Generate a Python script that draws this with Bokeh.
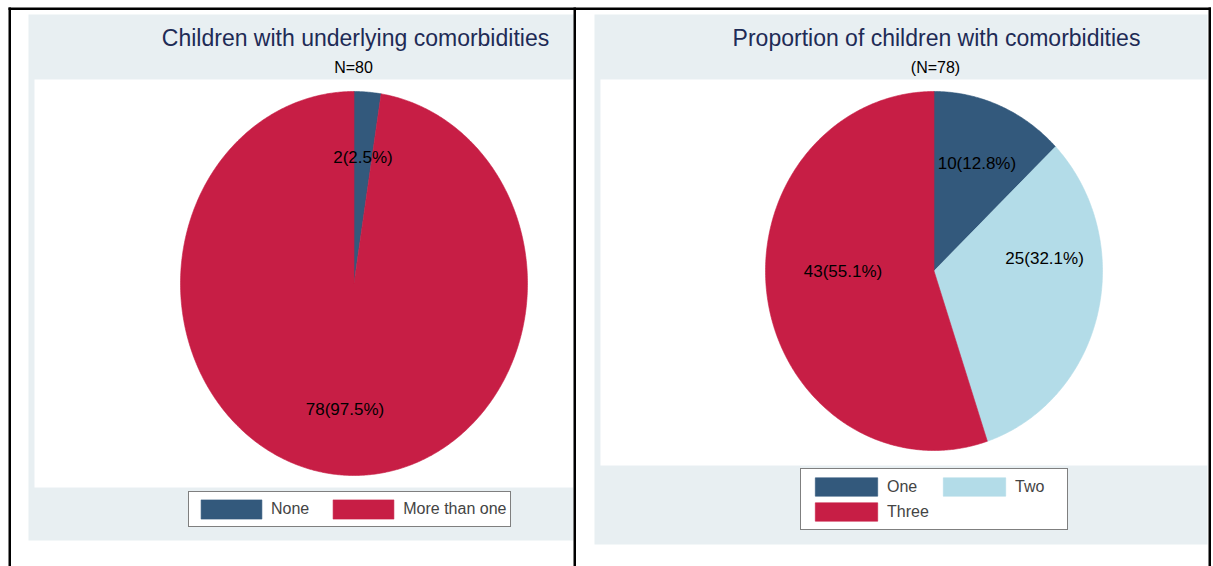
import numpy as np
from bokeh.plotting import figure
from bokeh.models import Range1d, Label, Legend, LegendItem
from bokeh.embed import file_html
from bokeh.resources import INLINE

# ---------------- data ----------------
left_title = "Children with underlying comorbidities"
left_subtitle = "N=80"
left_categories = ["None", "More than one"]
left_counts = [2, 78]

right_title = "Proportion of children with comorbidities"
right_subtitle = "(N=78)"
right_categories = ["One", "Two", "Three"]
right_counts = [10, 25, 43]

# ---------------- styles ----------------
NAVY = "#33597c"
RED = "#c71e45"
LIGHT = "#b3dce8"
BG = "#e8eff2"
TITLE_COLOR = "#1e2b56"
FONT = "Liberation Sans"
left_colors = [NAVY, RED]
right_colors = [NAVY, LIGHT, RED]

W, H = 1211, 566
p = figure(width=W, height=H, output_backend="svg", toolbar_location=None,
           x_range=Range1d(0, W), y_range=Range1d(H, 0),
           min_border=0, outline_line_color=None)
p.axis.visible = False
p.grid.visible = False
p.background_fill_color = "white"
p.border_fill_color = "white"

# panel backgrounds and plot regions
p.quad(left=[28, 594], right=[573, 1207], top=[14, 14], bottom=[540, 544],
       fill_color=BG, line_color=None)
p.quad(left=[34, 600], right=[573, 1207], top=[79, 79], bottom=[487, 465],
       fill_color="white", line_color=None)

# frame lines
p.quad(left=[8, 8, 573, 1208], right=[1210.5, 10.5, 575.5, 1210.5],
       top=[7, 7, 7, 7], bottom=[9.5, 566, 566, 566],
       fill_color="black", line_color=None)


def draw_pie(counts, colors, cx, cy, rx, ry, fracs_r, shifts):
    total = float(sum(counts))
    start = 0.0
    rends = []
    for i, (n, c) in enumerate(zip(counts, colors)):
        span = 360.0 * n / total
        th = np.radians(np.linspace(start, start + span, max(4, int(span * 2))))
        xs = np.concatenate([[cx], cx + rx * np.sin(th)])
        ys = np.concatenate([[cy], cy - ry * np.cos(th)])
        r = p.patch(xs, ys, fill_color=c, line_color=c, line_width=0.6)
        rends.append(r)
        mid = np.radians(start + span / 2 + shifts[i])
        lx = cx + rx * np.sin(mid) * fracs_r[i]
        ly = cy - ry * np.cos(mid) * fracs_r[i]
        pct = 100.0 * n / total
        p.add_layout(Label(x=lx, y=ly, text=f"{n}({pct:.1f}%)",
                           text_align="center", text_baseline="middle",
                           text_font=FONT, text_font_size="17px",
                           text_color="black"))
        start += span
    return rends


left_r = draw_pie(left_counts, left_colors, 353.5, 283, 173.5, 192,
                  [0.66, 0.66], [0, 0])
right_r = draw_pie(right_counts, right_colors, 933.5, 270.5, 168.5, 179.5,
                   [0.65, 0.66, 0.54], [0, -20, 9])

# titles
for x, t in [(355, left_title), (936, right_title)]:
    p.add_layout(Label(x=x, y=37, text=t, text_align="center",
                       text_baseline="middle", text_font=FONT,
                       text_font_size="23px", text_color=TITLE_COLOR))
for x, t in [(353, left_subtitle), (935, right_subtitle)]:
    p.add_layout(Label(x=x, y=67, text=t, text_align="center",
                       text_baseline="middle", text_font=FONT,
                       text_font_size="16px", text_color="black"))

# legends
leg1 = Legend(items=[LegendItem(label=c, renderers=[r])
                     for c, r in zip(left_categories, left_r)],
              location=(188, H - 527), orientation="horizontal",
              border_line_color="black", border_line_width=1,
              background_fill_color="white", background_fill_alpha=1,
              padding=4, spacing=16, margin=0,
              glyph_width=76, glyph_height=24, label_height=26,
              label_standoff=2, label_text_font=FONT,
              label_text_font_size="16px")
leg2 = Legend(items=[LegendItem(label=c, renderers=[r])
                     for c, r in zip(right_categories, right_r)],
              location=(800, H - 530), orientation="horizontal", ncols=2,
              border_line_color="black", border_line_width=1,
              background_fill_color="white", background_fill_alpha=1,
              padding=6, spacing=2, margin=0,
              glyph_width=78, glyph_height=23, label_height=23,
              label_width=46, label_standoff=2, label_text_font=FONT,
              label_text_font_size="16px")
p.add_layout(leg1)
p.add_layout(leg2)

open("out.html", "w").write(file_html(p, INLINE))
